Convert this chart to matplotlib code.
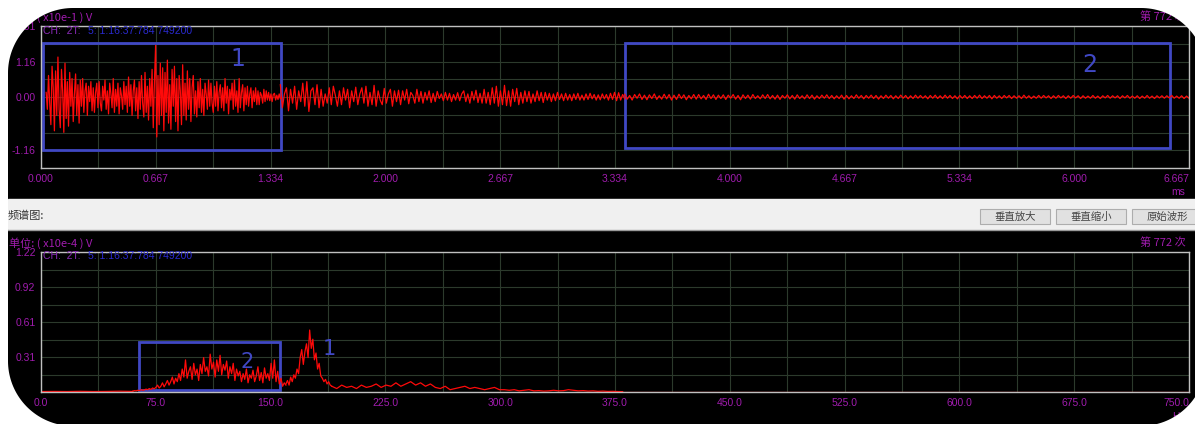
import numpy as np
import matplotlib
matplotlib.use('Agg')
import matplotlib.pyplot as plt
from matplotlib.patches import Rectangle, Polygon

# waveform (x10e-1 V), three stretches of the 6.667 ms record
wave_a_span = (0.03, 1.39)
wave_a = [0.15, -0.4, 0.7, -0.2, -0.9, 1.0, 0.3, -1.1, 0.85, -0.6,
          1.3, -0.4, -1.0, 0.9, 0.2, -1.15, 1.1, -0.7, 0.5, -0.95,
          0.8, -0.3, 0.6, -0.8, 0.1, 0.75, -0.6, 0.4, -0.85, 0.55,
          -0.3, 0.6, -0.5, 0.2, 0.45, -0.6, 0.35, -0.15, 0.5, -0.45,
          0.3, -0.5, 0.15, 0.45, -0.35, 0.5, -0.2, -0.45, 0.35, -0.1,
          0.55, -0.4, 0.2, -0.55, 0.45, 0.1, -0.35, 0.6, -0.5, 0.25,
          -0.3, 0.45, -0.55, 0.3, 0.05, -0.4, 0.5, -0.25, 0.35, -0.5,
          0.65, -0.3, 0.4, -0.6, 0.2, 0.55, -0.45, 0.3, -0.7, 0.5,
          -0.4, 0.7, -0.2, -0.65, 0.8, -0.5, 0.35, -0.75, 0.6, -0.3,
          0.9, -1.0, 0.5, 1.68, -1.3, 0.7, -0.9, 1.1, -0.6, 0.95,
          -1.1, 0.8, -0.5, 1.2, -0.85, 0.4, -1.05, 0.9, -0.3, 1.0,
          -0.8, 0.6, -1.1, 0.7, 0.2, -0.9, 1.05, -0.6, 0.45, -0.75,
          0.85, -0.4, 0.6, -0.8, 0.3, 0.7, -0.55, 0.2, -0.65, 0.5,
          -0.35, 0.6, -0.5, 0.25, -0.6, 0.45, 0.1, -0.4, 0.55, -0.3,
          0.45, -0.2, -0.5, 0.35, -0.3, 0.5, -0.45, 0.15, 0.4, -0.35,
          0.3, -0.45, 0.6, -0.2, 0.35, -0.55, 0.25, -0.1, 0.45, -0.4,
          0.55, -0.3, 0.2, -0.5, 0.6, -0.35, 0.15, 0.4, -0.45, 0.3,
          -0.25, 0.35, -0.3, 0.1, 0.3, -0.35, 0.2, -0.15, 0.3, -0.25,
          0.2, -0.25, 0.15, 0.05, -0.2, 0.25, -0.15, 0.2, -0.1, 0.15,
          -0.12, 0.1, -0.15, 0.08, 0.12, -0.1, 0.06, -0.08, 0.1, -0.05]
wave_b_span = (1.39, 3.39)
wave_b = [0.4, -0.35, 0.1, 0.3, -0.45, 0.25, -0.2, 0.35, -0.4, 0.2,
          -0.15, 0.45, -0.3, 0.5, -0.47, 0.2, 0.3, -0.25, 0.4, -0.35,
          0.25, -0.3, 0.1, -0.2, 0.3, -0.25, 0.35, 0.05, -0.3, 0.2,
          -0.25, 0.3, -0.1, 0.25, -0.35, 0.2, -0.15, 0.32, -0.25, 0.1,
          0.3, -0.2, 0.35, -0.3, 0.15, -0.25, 0.38, -0.3, 0.2, -0.1,
          -0.25, 0.28, -0.2, 0.1, 0.25, -0.3, 0.2, -0.15, 0.22, -0.25,
          0.2, -0.1, 0.25, -0.22, 0.15, 0.05, -0.2, 0.25, -0.15, 0.18,
          -0.2, 0.15, -0.1, 0.2, -0.18, 0.12, -0.15, 0.18, -0.05, 0.1,
          -0.12, 0.15, -0.1, 0.12, -0.15, 0.08, -0.1, 0.14, -0.12, 0.1,
          0.2, -0.15, 0.1, -0.2, 0.18, -0.1, 0.22, -0.18, 0.12, -0.2,
          0.25, -0.2, 0.15, -0.25, 0.3, -0.2, 0.35, -0.3, 0.2, -0.25,
          0.38, -0.28, 0.2, -0.3, 0.25, -0.15, 0.28, -0.25, 0.15, -0.2,
          0.2, -0.15, 0.18, -0.2, 0.1, -0.15, 0.2, -0.12, 0.15, -0.18,
          0.15, -0.1, 0.12, -0.15, 0.1, -0.12, 0.15, -0.08, 0.1, -0.12,
          0.12, -0.1, 0.08, -0.12, 0.1, -0.08, 0.12, -0.1, 0.06, -0.1,
          0.1, -0.08, 0.12, -0.06, 0.08, -0.1, 0.07, -0.09, 0.1, -0.06,
          0.08, -0.1, 0.12, -0.08, 0.15, -0.12, 0.14, -0.1, 0.08, -0.06]
wave_c_span = (3.39, 6.667)
wave_c = [0.09, -0.07, 0.05, -0.1, 0.08, -0.04, 0.1, -0.08, 0.06, -0.09,
          0.07, -0.05, 0.1, -0.08, 0.04, -0.07, 0.09, -0.06, 0.08, -0.1,
          0.06, -0.08, 0.09, -0.05, 0.07, -0.09, 0.05, -0.06, 0.08, -0.07,
          0.08, -0.06, 0.05, -0.08, 0.09, -0.05, 0.07, -0.08, 0.06, -0.05,
          0.07, -0.08, 0.06, -0.04, 0.08, -0.07, 0.05, -0.09, 0.07, -0.05,
          0.06, -0.07, 0.08, -0.05, 0.04, -0.06, 0.07, -0.05, 0.08, -0.06,
          0.05, -0.07, 0.06, -0.08, 0.05, -0.04, 0.07, -0.06, 0.05, -0.07,
          0.07, -0.05, 0.04, -0.06, 0.07, -0.05, 0.06, -0.07, 0.04, -0.05,
          0.06, -0.04, 0.07, -0.05, 0.05, -0.06, 0.04, -0.05, 0.06, -0.07,
          0.05, -0.06, 0.04, -0.05, 0.07, -0.04, 0.05, -0.06, 0.05, -0.04,
          0.06, -0.05, 0.05, -0.07, 0.04, -0.05, 0.06, -0.04, 0.05, -0.06,
          0.04, -0.05, 0.06, -0.04, 0.05, -0.06, 0.04, -0.05, 0.06, -0.04,
          0.05, -0.04, 0.04, -0.06, 0.05, -0.04, 0.06, -0.05, 0.04, -0.05,
          0.06, -0.04, 0.05, -0.05, 0.04, -0.06, 0.05, -0.04, 0.05, -0.05,
          0.04, -0.05, 0.05, -0.04, 0.06, -0.05, 0.04, -0.04, 0.05, -0.06,
          0.05, -0.04, 0.04, -0.05, 0.05, -0.03, 0.05, -0.05, 0.04, -0.04,
          0.04, -0.05, 0.06, -0.04, 0.04, -0.05, 0.03, -0.04, 0.05, -0.04,
          0.05, -0.03, 0.04, -0.05, 0.04, -0.04, 0.05, -0.03, 0.04, -0.05,
          0.04, -0.04, 0.05, -0.03, 0.04, -0.05, 0.04, -0.04, 0.03, -0.04,
          0.05, -0.04, 0.03, -0.05, 0.04, -0.03, 0.05, -0.04, 0.04, -0.03,
          0.04, -0.05, 0.04, -0.03, 0.05, -0.04, 0.03, -0.04, 0.04, -0.05,
          0.03, -0.04, 0.05, -0.04, 0.03, -0.05, 0.04, -0.03, 0.04, -0.04,
          0.04, -0.03, 0.05, -0.04, 0.03, -0.04, 0.04, -0.05, 0.03, -0.04]

# spectrum (x10e-4 V) in stretches over 0..750 Hz
spec_a_span = (0, 60)
spec_a = [0.004, 0.005, 0.004, 0.006, 0.004, 0.005, 0.007, 0.005]
spec_b_span = (60, 160)
spec_b = [0.008, 0.012, 0.01, 0.015, 0.012, 0.02, 0.015, 0.018, 0.025, 0.02, 0.03, 0.022, 0.035, 0.028,
          0.04, 0.06, 0.035, 0.05, 0.08, 0.045, 0.07, 0.1, 0.06, 0.09, 0.13, 0.07, 0.12, 0.09,
          0.16, 0.1, 0.2, 0.13, 0.28, 0.12, 0.18, 0.22, 0.11, 0.25, 0.15, 0.2, 0.1, 0.24,
          0.16, 0.3, 0.18, 0.22, 0.14, 0.33, 0.2, 0.26, 0.13, 0.28, 0.18, 0.32, 0.15, 0.24,
          0.19, 0.27, 0.12, 0.22, 0.16, 0.25, 0.1, 0.2, 0.14, 0.18, 0.09, 0.16, 0.11, 0.2,
          0.08, 0.15, 0.12, 0.19, 0.09, 0.14, 0.22, 0.1, 0.17, 0.08, 0.21, 0.12, 0.16, 0.1,
          0.25, 0.12, 0.28, 0.09, 0.18, 0.07, 0.12, 0.05, 0.08, 0.06]
spec_c_span = (160, 190)
spec_c = [0.07, 0.1, 0.06, 0.13, 0.09, 0.15, 0.12, 0.2, 0.16, 0.3,
          0.37, 0.24, 0.35, 0.42, 0.3, 0.54, 0.38, 0.46, 0.28, 0.34,
          0.2, 0.25, 0.14, 0.12, 0.09, 0.11, 0.07, 0.09, 0.06, 0.05]
spec_d_span = (190, 380)
spec_d = [0.05, 0.03, 0.06, 0.04, 0.05, 0.03, 0.06, 0.04, 0.05, 0.07,
          0.04, 0.06, 0.05, 0.08, 0.05, 0.07, 0.09, 0.06, 0.08,
          0.05, 0.07, 0.04, 0.03, 0.05, 0.02, 0.03, 0.04, 0.05, 0.03,
          0.04, 0.03, 0.02, 0.03, 0.04, 0.02,
          0.02, 0.015, 0.02, 0.01, 0.015, 0.02, 0.01, 0.012, 0.008, 0.01,
          0.015, 0.01, 0.012, 0.02, 0.015, 0.01, 0.012, 0.008, 0.01, 0.006,
          0.008, 0.005, 0.006, 0.004, 0.003]
spec_e_span = (380, 750)
spec_e = [0.003, 0.003]

# marked regions: (x0, x1, y0, y1) and labels
wave_boxes = [(0.012, 1.394, -1.73, 1.76), (3.392, 6.557, -1.66, 1.76)]
wave_marks = [('1', 1.144, 1.24), ('2', 6.092, 1.04)]
spec_boxes = [(64.0, 156.1, 0.017, 0.436)]
spec_marks = [('2', 134.6, 0.26), ('1', 188.2, 0.375)]

wave_xticks = ['0.000', '0.667', '1.334', '2.000', '2.667', '3.334',
               '4.000', '4.667', '5.334', '6.000', '6.667']
spec_xticks = ['0.0', '75.0', '150.0', '225.0', '300.0', '375.0',
               '450.0', '525.0', '600.0', '675.0', '750.0']
wave_ylabels = ['', '-1.16', '', '', '0.00', '', '1.16', '', '2.31']
spec_ylabels = ['', '', '0.31', '', '0.61', '', '0.92', '', '1.22']
buttons = ['垂直放大', '垂直缩小', '原始波形']

W, H = 1195, 424
PURPLE = '#a01cae'
BLUE_TXT = '#2a2ad0'
BOX = '#4048c4'
CJK = ['Noto Sans CJK SC', 'DejaVu Sans']


def rect(l, t, r, b):
    return [l / W, 1 - b / H, (r - l) / W, (b - t) / H]


def stretch(span, vals):
    return np.linspace(span[0], span[1], len(vals)), np.array(vals)


fig = plt.figure(figsize=(W / 100, H / 100), dpi=100, facecolor='white')

# background: black panels, grey tool bar, buttons
bg = fig.add_axes([0, 0, 1, 1], zorder=0)
bg.set_xlim(0, W)
bg.set_ylim(H, 0)
bg.axis('off')
bg.add_patch(Rectangle((8, 8), 1210, 430, color='black'))
bg.add_patch(Rectangle((8, 199), 1210, 30, color='#f0f0f0'))
bg.plot([8, 1210], [229.5, 229.5], color='#9a9a9a', lw=1)
bg.text(8, 216, '频谱图:', family=CJK, fontsize=8, color='#333333', va='center')
for i, lab in enumerate(buttons):
    x0 = 980 + i * 76
    bg.add_patch(Rectangle((x0, 209), 70, 15, facecolor='#e1e1e1', edgecolor='#adadad', lw=0.8))
    bg.text(x0 + 35, 216.5, lab, family=CJK, fontsize=7.5, color='#444444', ha='center', va='center')

ax1 = fig.add_axes(rect(41, 26, 1189, 168), zorder=1)
ax2 = fig.add_axes(rect(41, 252, 1189, 392), zorder=1)

for ax, xmax, ymin, ymax, xl, yl in [(ax1, 6.667, -2.31, 2.31, wave_xticks, wave_ylabels),
                                      (ax2, 750.0, 0.0, 1.22, spec_xticks, spec_ylabels)]:
    ax.set_facecolor('black')
    ax.set_xlim(0, xmax)
    ax.set_ylim(ymin, ymax)
    xt = np.linspace(0, xmax, 21)
    ax.set_xticks(xt)
    ax.set_xticklabels([xl[i // 2] if i % 2 == 0 else '' for i in range(21)])
    ax.set_yticks(np.linspace(ymin, ymax, 9))
    ax.set_yticklabels(yl)
    ax.grid(True, color='#2c3a2c', lw=0.8)
    ax.set_axisbelow(True)
    ax.tick_params(length=0, pad=4, colors=PURPLE)
    for lbl in ax.get_xticklabels() + ax.get_yticklabels():
        lbl.set_family('Liberation Sans')
        lbl.set_fontsize(7.5)
    ax.get_xticklabels()[-1].set_ha('right')
    for sp in ax.spines.values():
        sp.set_color('#c0c0c0')
        sp.set_linewidth(1)

# time waveform
for span, vals in [(wave_a_span, wave_a), (wave_b_span, wave_b), (wave_c_span, wave_c)]:
    t, v = stretch(span, vals)
    ax1.plot(t, v, color='#ff0a0a', lw=0.9)

# spectrum
for span, vals in [(spec_a_span, spec_a), (spec_b_span, spec_b), (spec_c_span, spec_c),
                   (spec_d_span, spec_d), (spec_e_span, spec_e)]:
    f, v = stretch(span, vals)
    ax2.plot(f, v, color='#ff0a0a', lw=0.9)

for ax, boxes, marks, fs in [(ax1, wave_boxes, wave_marks, 17), (ax2, spec_boxes, spec_marks, 15)]:
    for x0, x1, y0, y1 in boxes:
        ax.add_patch(Rectangle((x0, y0), x1 - x0, y1 - y0, fill=False, edgecolor=BOX, lw=2))
    for s, x, y in marks:
        ax.text(x, y, s, color=BOX, fontsize=fs, ha='center', va='center')

# overlay: captions, then white rounded corners on top
ov = fig.add_axes([0, 0, 1, 1], zorder=10)
ov.set_xlim(0, W)
ov.set_ylim(H, 0)
ov.axis('off')
ov.patch.set_alpha(0)

for y in (17, 243):
    unit = '单位: ( x10e-1 ) V' if y == 17 else '单位: ( x10e-4 ) V'
    ov.text(9, y, unit, family=CJK, fontsize=8, color=PURPLE, va='center', zorder=2)
    ov.text(1140, y, '第 772 次', family=CJK, fontsize=8, color=PURPLE, va='center', zorder=2)
for y in (31, 256):
    ov.text(43, y, 'CH:  2T:', family='Liberation Sans', fontsize=7.5, color='#8a2ab8', va='center', zorder=2)
    ov.text(88, y, '5: 1:16:37:784 749200', family='Liberation Sans', fontsize=7.5,
            color=BLUE_TXT, va='center', zorder=2)
ov.text(1178, 192, 'ms', family='Liberation Sans', fontsize=7.5, color=PURPLE, ha='center', va='center', zorder=2)
ov.text(1178, 417, 'Hz', family='Liberation Sans', fontsize=7.5, color=PURPLE, ha='center', va='center', zorder=2)

r = 65
corners = [(73, 73, 180, 270, (0, 0)), (1141, 73, 270, 360, (1215, 0)),
           (1141, 361, 0, 90, (1215, 430)), (73, 361, 90, 180, (0, 430))]
for cx, cy, a0, a1, outer in corners:
    ang = np.radians(np.linspace(a0, a1, 40))
    pts = list(zip(cx + r * np.cos(ang), cy + r * np.sin(ang))) + [outer]
    ov.add_patch(Polygon(pts, closed=True, facecolor='white', edgecolor='none', zorder=5))
ov.add_patch(Rectangle((-5, -5), 13, H + 10, facecolor='white', edgecolor='none', zorder=5))
ov.add_patch(Rectangle((-5, -5), W + 10, 13, facecolor='white', edgecolor='none', zorder=5))

fig.savefig('out.png', dpi=100, facecolor='white')
